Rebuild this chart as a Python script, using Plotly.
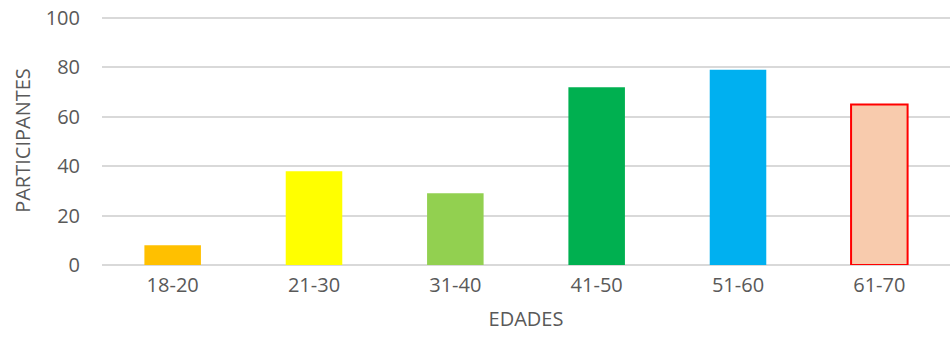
import plotly.graph_objects as go

# Participantes por grupo de edad
edades = ["18-20", "21-30", "31-40", "41-50", "51-60", "61-70"]
participantes = [8, 38, 29, 72, 79, 65]
colores = ["#FFC000", "#FFFF00", "#92D050", "#00B050", "#00B0F0", "#F8CBAD"]
bordes = ["#FFC000", "#FFFF00", "#92D050", "#00B050", "#00B0F0", "#FF0000"]
anchos_borde = [0, 0, 0, 0, 0, 2]
y_ticks = [0, 20, 40, 60, 80, 100]

FONT = "Open Sans"
GRIS = "#595959"

fig = go.Figure(
    go.Bar(
        x=edades,
        y=participantes,
        marker=dict(color=colores, line=dict(color=bordes, width=anchos_borde)),
        width=0.4,
    )
)

fig.update_layout(
    width=950,
    height=348,
    margin=dict(l=102, r=0, t=16, b=83),
    paper_bgcolor="white",
    plot_bgcolor="white",
    showlegend=False,
    font=dict(family=FONT, size=20, color=GRIS),
)

fig.update_xaxes(
    showgrid=False,
    showline=False,
    ticks="",
    ticklabelstandoff=6,
    tickfont=dict(family=FONT, size=20, color=GRIS),
    title=dict(text="EDADES", font=dict(family=FONT, size=20, color=GRIS), standoff=14),
)

fig.update_yaxes(
    range=[0, 100.8],
    tickvals=y_ticks,
    showgrid=True,
    gridcolor="#D9D9D9",
    gridwidth=1.7,
    zeroline=True,
    zerolinecolor="#D9D9D9",
    zerolinewidth=1.7,
    showline=False,
    ticks="",
    ticklabelstandoff=21,
    tickfont=dict(family=FONT, size=20, color=GRIS),
    title=dict(text="PARTICIPANTES", font=dict(family=FONT, size=20, color=GRIS), standoff=9),
)

fig.write_html("out.html")
